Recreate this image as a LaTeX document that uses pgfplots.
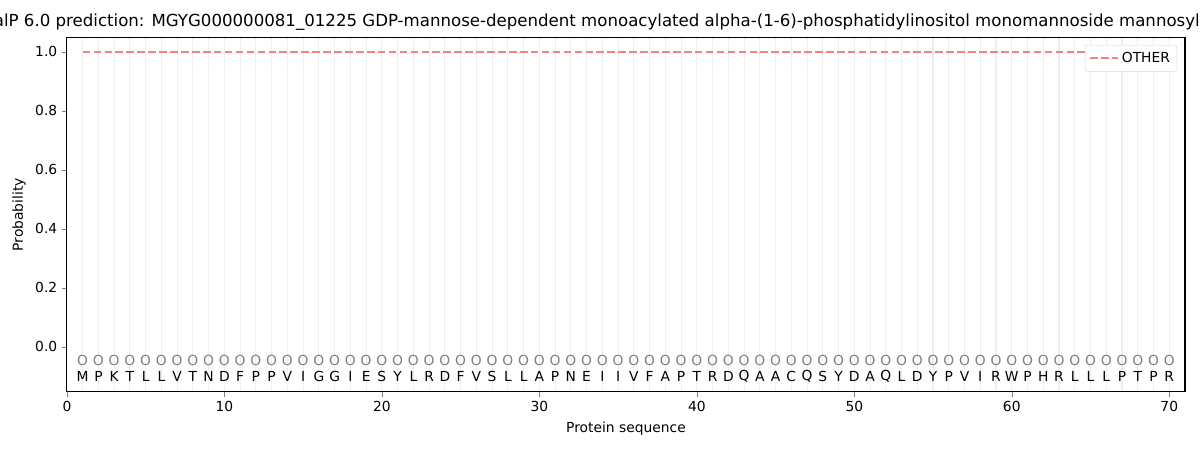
\documentclass[border=0pt]{standalone}
\usepackage{pgfplots}
\pgfplotsset{compat=1.18}
\usepackage{pgfplotstable}
\usepackage{fontspec}
\setmainfont{DejaVu Sans}
\definecolor{otherred}{RGB}{250,128,128}
\definecolor{gridgray}{RGB}{238,238,238}
\pgfplotstableread{
x lab
1 M
2 P
3 K
4 T
5 L
6 L
7 V
8 T
9 N
10 D
11 F
12 P
13 P
14 V
15 I
16 G
17 G
18 I
19 E
20 S
21 Y
22 L
23 R
24 D
25 F
26 V
27 S
28 L
29 L
30 A
31 P
32 N
33 E
34 I
35 I
36 V
37 F
38 A
39 P
40 T
41 R
42 D
43 Q
44 A
45 A
46 C
47 Q
48 S
49 Y
50 D
51 A
52 Q
53 L
54 D
55 Y
56 P
57 V
58 I
59 R
60 W
61 P
62 H
63 R
64 L
65 L
66 L
67 P
68 T
69 P
70 R
}\seqtable
\begin{document}
\begin{tikzpicture}
\useasboundingbox (0,0) rectangle (864bp,324bp);
\begin{axis}[
  at={(48.2bp,41.8bp)}, anchor=south west,
  scale only axis, width=805bp, height=255bp,
  xmin=0, xmax=71, ymin=-0.153, ymax=1.047,
  xtick={0,10,...,70},
  minor xtick={1,...,70},
  ytick={0,0.2,...,1.0},
  yticklabel style={/pgf/number format/.cd, fixed, fixed zerofill, precision=1},
  /pgf/number format/assume math mode=true,
  tick align=outside, tick pos=left,
  major tick length=3.5pt, minor tick length=0pt,
  xmajorgrids=false, xminorgrids=true,
  minor grid style={gridgray, line width=0.8pt},
  ticklabel style={font=\fontsize{10}{12}\selectfont},
  xlabel={Protein sequence}, ylabel={Probability},
  label style={font=\fontsize{10}{12}\selectfont},
  title={SignalP 6.0 prediction: MGYG000000081\_01225 GDP-mannose-dependent monoacylated alpha-(1-6)-phosphatidylinositol monomannoside mannosyltransferase},
  title style={font=\fontsize{12}{14}\selectfont, yshift=-4pt},
  legend style={at={(0.993,0.98)}, anchor=north east, draw=black!15, rounded corners=2pt, font=\fontsize{10}{12}\selectfont, inner sep=3pt},
  legend image code/.code={\draw[#1] (0bp,0bp) -- (20bp,0bp);},
  legend cell align=left,
  axis line style={line width=0.8pt},
  clip=false,
]
\addplot[otherred, line width=1.5pt, dash pattern=on 5.5pt off 2.4pt] coordinates {(1,1) (70,1)};
\addlegendentry{OTHER}
\addplot[only marks, mark=none, nodes near coords={\pgfplotspointmeta}, point meta=explicit symbolic,
  every node near coord/.style={anchor=center, font=\fontsize{10}{12}\selectfont, text=black}]
  table[x=x, y expr=-0.1, meta=lab] {\seqtable};
\addplot[only marks, mark=none, nodes near coords={O}, point meta=explicit symbolic,
  every node near coord/.style={anchor=center, font=\fontsize{10}{12}\selectfont, text=black!50}]
  table[x=x, y expr=-0.047, meta=lab] {\seqtable};
\end{axis}
\end{tikzpicture}
\end{document}
